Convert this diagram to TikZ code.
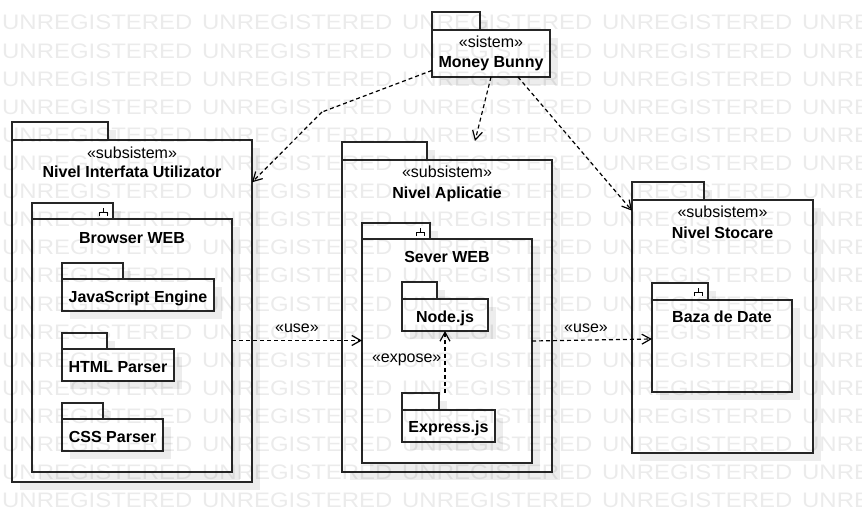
\documentclass[tikz,border=0pt]{standalone}
\usepackage{graphicx}
\usepackage{fontspec}
\setmainfont{Liberation Sans}
\usetikzlibrary{arrows.meta,shadows}

\tikzset{
  pkg/.style={draw=black!85, line width=1.2pt, fill=white, anchor=north west, inner sep=0pt, outer sep=0pt,
    drop shadow={shadow xshift=8pt, shadow yshift=-8pt, fill=black!7, opacity=1, draw=none}},
  lbl/.style={font=\fontsize{16}{20}\selectfont, inner sep=0pt, anchor=base},
  pkgname/.style={lbl, font=\fontsize{16}{20}\selectfont\bfseries},
  dep/.style={line width=1.2pt, dash pattern=on 4pt off 3pt},
  tip/.style={-{Straight Barb[length=9pt,width=10pt]}},
  icon/.style={draw=black, line width=1pt},
  wm/.style={font=\fontsize{21}{21}\selectfont, text=black, opacity=0.08, inner sep=0pt, anchor=base west}
}

\begin{document}
\begin{tikzpicture}[x=1pt, y=-1pt]
\useasboundingbox (0,0) rectangle (862,532);

\node[pkg, minimum width=48pt, minimum height=18pt] (bunnytab) at (432,12) {};
\node[pkg, minimum width=118pt, minimum height=47pt] (bunny) at (432,30) {};
\node[lbl] (bunnyst) at (491,48) {«sistem»};
\node[pkgname] (bunnylbl) at (491,68) {Money Bunny};

\node[pkg, minimum width=96pt, minimum height=18pt] (uitab) at (12,122) {};
\node[pkg, minimum width=240pt, minimum height=342pt] (ui) at (12,140) {};
\node[lbl] (uist) at (132,158) {«subsistem»};
\node[pkgname] (uilbl) at (132,178) {Nivel Interfata Utilizator};

\node[pkg, minimum width=81pt, minimum height=16pt] (browsertab) at (32,203) {};
\node[pkg, minimum width=200pt, minimum height=253pt] (browser) at (32,219) {};
\node[pkgname] (browserlbl) at (132,243) {Browser WEB};
\draw[icon] ([shift={(-10,5)}]browsertab.north east) -- ++(0,4) ++(-4,4) -- ++(0,-4) -- ++(8,0) -- ++(0,4);

\node[pkg, minimum width=61pt, minimum height=16pt] (jstab) at (62,263) {};
\node[pkg, minimum width=152pt, minimum height=32pt] (js) at (62,279) {};
\node[pkgname] (jslbl) at (138,302.5) {JavaScript Engine};

\node[pkg, minimum width=45pt, minimum height=16pt] (htmltab) at (62,333) {};
\node[pkg, minimum width=112pt, minimum height=32pt] (html) at (62,349) {};
\node[pkgname] (htmllbl) at (118,372) {HTML Parser};

\node[pkg, minimum width=41pt, minimum height=16pt] (csstab) at (62,403) {};
\node[pkg, minimum width=101pt, minimum height=32pt] (css) at (62,419) {};
\node[pkgname] (csslbl) at (112.5,442) {CSS Parser};

\node[pkg, minimum width=85pt, minimum height=18pt] (apptab) at (342,142) {};
\node[pkg, minimum width=210pt, minimum height=312pt] (app) at (342,160) {};
\node[lbl] (appst) at (447,177) {«subsistem»};
\node[pkgname] (applbl) at (447,198) {Nivel Aplicatie};

\node[pkg, minimum width=68pt, minimum height=16pt] (severtab) at (362,223) {};
\node[pkg, minimum width=170pt, minimum height=224pt] (sever) at (362,239) {};
\node[pkgname] (severlbl) at (447,262) {Sever WEB};
\draw[icon] ([shift={(-10,5)}]severtab.north east) -- ++(0,4) ++(-4,4) -- ++(0,-4) -- ++(8,0) -- ++(0,4);

\node[pkg, minimum width=35pt, minimum height=17pt] (nodetab) at (402,282) {};
\node[pkg, minimum width=86pt, minimum height=32pt] (node) at (402,299) {};
\node[pkgname] (nodelbl) at (445,322) {Node.js};

\node[pkg, minimum width=37pt, minimum height=17pt] (expresstab) at (402,393) {};
\node[pkg, minimum width=93pt, minimum height=32pt] (express) at (402,410) {};
\node[pkgname] (expresslbl) at (448.5,432) {Express.js};

\node[pkg, minimum width=72pt, minimum height=18pt] (stocaretab) at (632,182) {};
\node[pkg, minimum width=181pt, minimum height=253pt] (stocare) at (632,200) {};
\node[lbl] (stocarest) at (722.5,217) {«subsistem»};
\node[pkgname] (stocarelbl) at (722.5,238) {Nivel Stocare};

\node[pkg, minimum width=56pt, minimum height=17pt] (bazatab) at (652,283) {};
\node[pkg, minimum width=140pt, minimum height=92pt] (baza) at (652,300) {};
\node[pkgname] (bazalbl) at (722,322) {Baza de Date};
\draw[icon] ([shift={(-10,5)}]bazatab.north east) -- ++(0,4) ++(-4,4) -- ++(0,-4) -- ++(8,0) -- ++(0,4);

\coordinate (k1) at (322,112);
\coordinate (k2) at (475,141);
\coordinate (k3) at ([yshift=5pt]browser.east);

\path [dep] (bunny.196) edge (k1);
\path [dep] (k1) edge[tip] (ui.47);
\path [dep] (bunny.south) edge[tip] (k2);
\path [dep] ([xshift=27pt]bunny.south) edge[tip] (stocare.128);
\path [dep] (k3) edge[tip] node[lbl, yshift=8pt] {«use»} (k3 -| sever.west);
\path [dep] ([yshift=10pt]sever.east) edge[tip] node[lbl, pos=0.45, yshift=8pt] {«use»} ([yshift=7pt]baza.west);
\path [dep] (expresstab.north -| node.south) edge[tip] node[lbl, anchor=base east, xshift=-3pt] {«expose»} (node.south);

\begin{scope}
\clip (0,0) rectangle (862,532);
\foreach \r in {0,...,17}
  \foreach \c in {0,...,4}
    \node[wm] (wm-\r-\c) at ({2+200*\c},{30+28.1*\r}) {\scalebox{1.14}[1]{UNREGISTERED}};
\end{scope}
\end{tikzpicture}
\end{document}
